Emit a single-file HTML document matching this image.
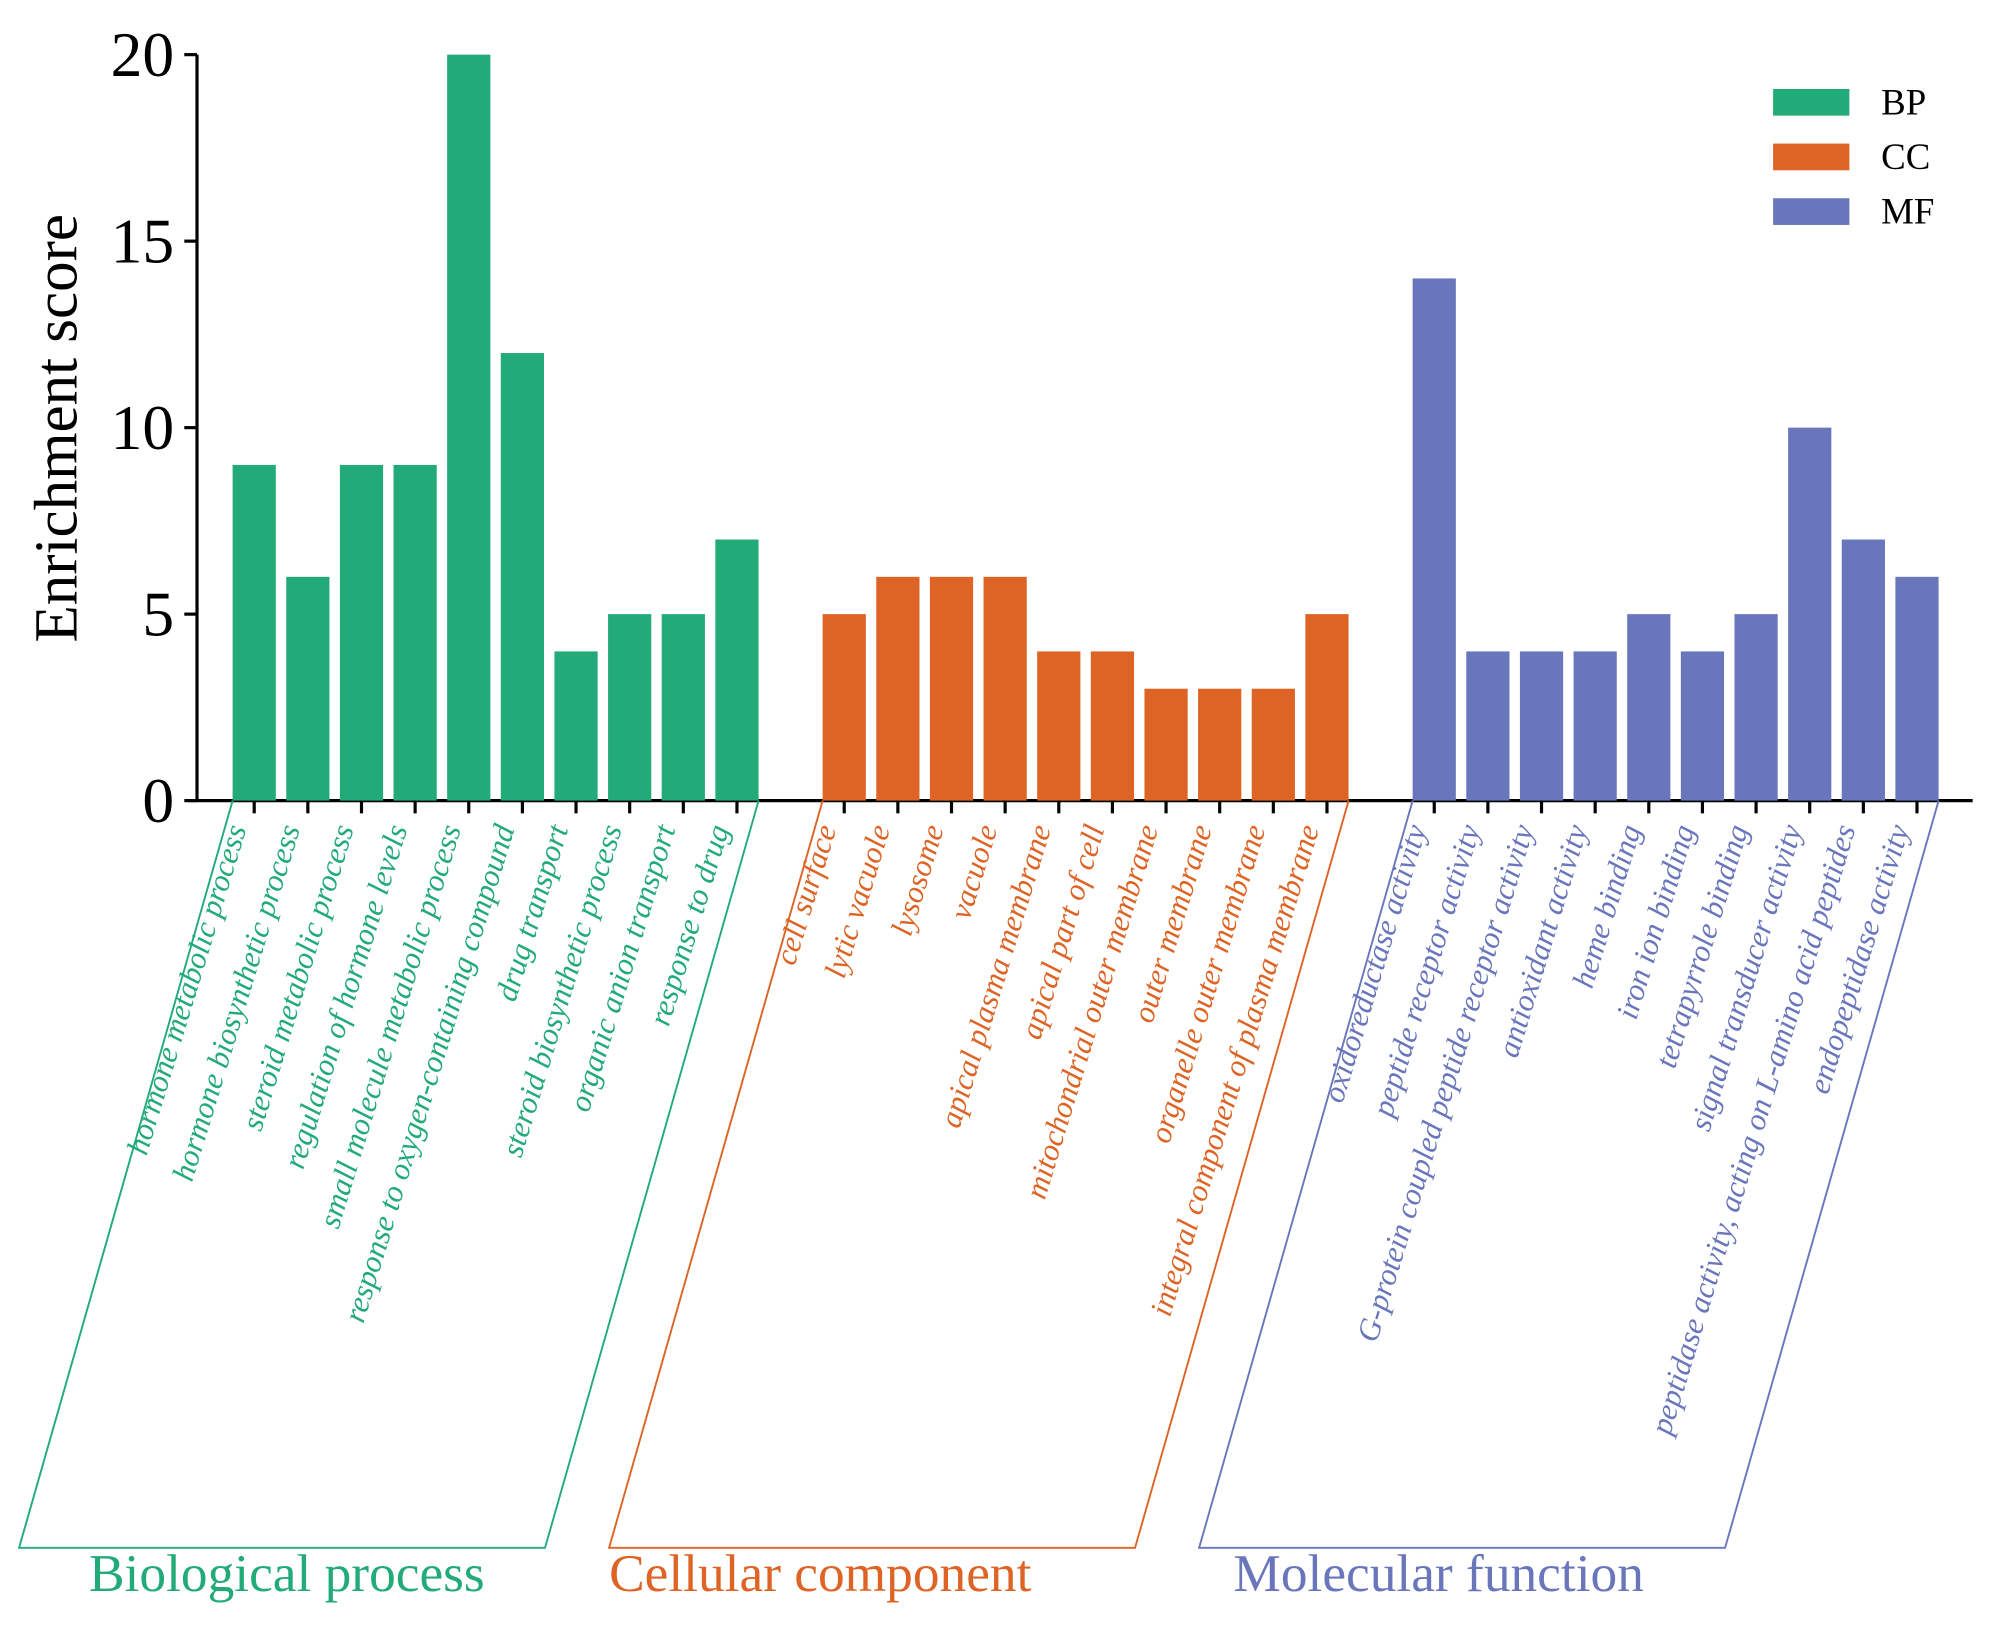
<!DOCTYPE html>
<html><head><meta charset="utf-8"><style>
html,body{margin:0;padding:0;background:#fff;}
svg{display:block;}
text{font-family:"Liberation Serif",serif;}
</style></head>
<body>
<svg id="chart" width="1993" height="1633" viewBox="0 0 1568 1285" preserveAspectRatio="none" xmlns="http://www.w3.org/2000/svg">
<g id="plot"></g>
</svg>
<script>
const bpTerms=["hormone metabolic process","hormone biosynthetic process","steroid metabolic process","regulation of hormone levels","small molecule metabolic process","response to oxygen-containing compound","drug transport","steroid biosynthetic process","organic anion transport","response to drug"];
const bpValues=[9,6,9,9,20,12,4,5,5,7];
const ccTerms=["cell surface","lytic vacuole","lysosome","vacuole","apical plasma membrane","apical part of cell","mitochondrial outer membrane","outer membrane","organelle outer membrane","integral component of plasma membrane"];
const ccValues=[5,6,6,6,4,4,3,3,3,5];
const mfTerms=["oxidoreductase activity","peptide receptor activity","G-protein coupled peptide receptor activity","antioxidant activity","heme binding","iron ion binding","tetrapyrrole binding","signal transducer activity","peptidase activity, acting on L-amino acid peptides","endopeptidase activity"];
const mfValues=[14,4,4,4,5,4,5,10,7,6];
const yTicks=[0,5,10,15,20];
const groupNames=["Biological process","Cellular component","Molecular function"];
const legendKeys=["BP","CC","MF"];

const NS="http://www.w3.org/2000/svg";
const g=document.getElementById('plot');
const colors=["#22aa78","#dd6424","#6a76bc"];
const groupLabelOffset=[55,0,27];
const y0=630,y20=43,axisX=155;
const y=v=>y0+(y0-y20)*(-v/20);
const slot0=200,slotW=42.2,barW=34;
const xs=i=>slot0+i*slotW;
function el(tag,attrs,parent){const e=document.createElementNS(NS,tag);for(const k in attrs)e.setAttribute(k,attrs[k]);(parent||g).appendChild(e);return e;}

let ax=el('line',{x1:axisX,y1:y20,x2:axisX,y2:y0+1,stroke:'#000','stroke-width':2.5});


yTicks.forEach(t=>{
  let l=el('line',{x1:axisX-10,y1:y(t),x2:axisX,y2:y(t),stroke:'#000','stroke-width':2.5});
  
  
  let tx=el('text',{x:axisX-18,y:y(t)+17,'text-anchor':'end','font-size':50});
  tx.textContent=t;
  
  
});
let yt=el('text',{x:0,y:0,transform:'translate(60,337) rotate(-90)','text-anchor':'middle','font-size':48});
yt.textContent="Enrichment score";


let xa=el('line',{x1:148,y1:y0,x2:1552,y2:y0,stroke:'#000','stroke-width':2.5});



const groups=[[bpTerms,bpValues],[ccTerms,ccValues],[mfTerms,mfValues]];
groups.forEach((grp,gi)=>{
  const [terms,vals]=grp;const c=colors[gi];const off=gi*11;
  vals.forEach((v,i)=>{
    const cx=xs(off+i);
    let r=el('rect',{x:cx-barW/2,y:y(v),width:barW,height:y0-y(v),fill:c});
    
    
    let tk=el('line',{x1:cx,y1:y0,x2:cx,y2:y0+10,stroke:'#000','stroke-width':2.5});
    
    
    let t=el('text',{x:0,y:0,transform:`translate(${cx-6},${y0+22}) rotate(-73)`,'text-anchor':'end','font-size':24.5,'font-style':'italic',fill:c});
    t.textContent=terms[i];
    
    
  });
  const left=xs(off)-17,right=xs(off+vals.length-1)+17,dx=168,bot=1218;
  let p=el('polyline',{points:`${left},${y0} ${left-dx},${bot} ${right-dx},${bot} ${right},${y0}`,fill:'none',stroke:c,'stroke-width':1.5});
  
  
  let gt=el('text',{x:left-dx+groupLabelOffset[gi],y:1252,'font-size':42,fill:c});
  gt.textContent=groupNames[gi];
  
  
  let sw=el('rect',{x:1395,y:70+gi*43,width:60,height:21,fill:c});
  
  
  let lt=el('text',{x:1480,y:90+gi*43,'font-size':29});
  lt.textContent=legendKeys[gi];
  
  
});
</script>
</body></html>
